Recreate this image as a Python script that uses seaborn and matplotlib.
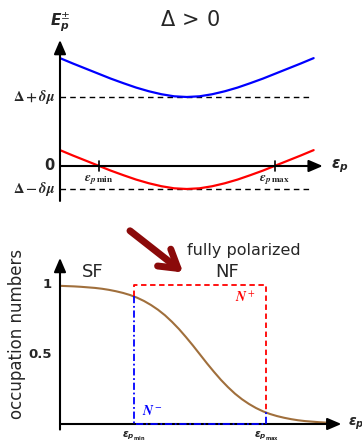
import numpy as np
import pandas as pd
import matplotlib
matplotlib.use("Agg")
import matplotlib.pyplot as plt
import seaborn as sns

# ---- quasiparticle branches E_p^+ / E_p^- versus eps_p ----
eps_top = [0.0, 0.25, 0.5, 0.75, 1.0, 1.25, 1.5, 1.75, 2.0, 2.25, 2.5,
           2.75, 3.0, 3.25, 3.5, 3.75, 4.0, 4.25, 4.5, 4.75, 5.0]
e_plus = [4.69, 4.46, 4.24, 4.02, 3.80, 3.60, 3.41, 3.25, 3.12, 3.03, 3.00,
          3.03, 3.12, 3.25, 3.41, 3.60, 3.80, 4.02, 4.24, 4.46, 4.69]
e_minus = [0.69, 0.46, 0.24, 0.02, -0.20, -0.40, -0.59, -0.75, -0.88, -0.97, -1.00,
           -0.97, -0.88, -0.75, -0.59, -0.40, -0.20, 0.02, 0.24, 0.46, 0.69]
level_plus = 3.0     # Delta + delta mu
level_minus = -1.0   # Delta - delta mu
eps_min_top, eps_max_top = 0.77, 4.23

# ---- occupation numbers ----
eps_bot = [0.0, 0.25, 0.5, 0.75, 1.0, 1.25, 1.5, 1.75, 2.0, 2.25,
           2.5, 2.75, 3.0, 3.25, 3.5, 3.75, 4.0, 4.25, 4.5, 4.75,
           5.0, 5.25, 5.5, 5.75, 6.0, 6.25, 6.5, 6.75, 7.0, 7.25,
           7.5, 7.75, 8.0, 8.25, 8.5, 8.75, 9.0, 9.25, 9.5, 9.75]
n_sf = [0.994, 0.992, 0.990, 0.987, 0.983, 0.979, 0.973, 0.965, 0.955, 0.943,
        0.928, 0.909, 0.885, 0.856, 0.822, 0.782, 0.735, 0.683, 0.625, 0.564,
        0.500, 0.436, 0.375, 0.317, 0.265, 0.218, 0.178, 0.144, 0.115, 0.091,
        0.072, 0.057, 0.045, 0.035, 0.027, 0.021, 0.017, 0.013, 0.010, 0.008]
eps_min_bot, eps_max_bot = 2.64, 7.36
n_plus_x = [eps_min_bot, eps_min_bot, eps_max_bot, eps_max_bot]
n_plus_y = [0.92, 1.0, 1.0, 0.084]
n_minus_x = [eps_min_bot, eps_min_bot, eps_max_bot, eps_max_bot]
n_minus_y = [0.92, 0.0, 0.0, 0.084]

sns.set_style("white")
plt.rcParams["mathtext.fontset"] = "dejavusans"

fig = plt.figure(figsize=(3.62, 4.43), dpi=100)

# ================= top panel =================
ax1 = fig.add_axes([60 / 362, (443 - 202.8) / 443, 279 / 362, 165.6 / 443])
ax1.set_xlim(0, 5.5)
ax1.set_ylim(-1.6, 5.6)
ax1.axis("off")

top = pd.DataFrame({"eps": eps_top, "plus": e_plus, "minus": e_minus})
sns.lineplot(data=top, x="eps", y="plus", color="#0000ff", lw=1.6, ax=ax1, zorder=3)
sns.lineplot(data=top, x="eps", y="minus", color="#ff0000", lw=1.6, ax=ax1, zorder=3)

for lvl in (level_plus, level_minus):
    ax1.plot([0, 4.94], [lvl, lvl], color="black", lw=1.0, ls=(0, (4, 3)), zorder=2)

arrow_kw = dict(arrowstyle="-|>,head_length=0.7,head_width=0.3", color="black",
                lw=1.5, shrinkA=0, shrinkB=0, mutation_scale=12)
ax1.annotate("", xy=(0, 5.48), xytext=(0, -1.52), arrowprops=arrow_kw,
             annotation_clip=False)
ax1.annotate("", xy=(5.18, 0), xytext=(0, 0), arrowprops=arrow_kw,
             annotation_clip=False)

for xe in (eps_min_top, eps_max_top):
    ax1.plot([xe, xe], [-0.22, 0.22], color="black", lw=1.2, zorder=4)
    ax1.text(xe, -0.33, r"$\mathbfit{\epsilon}_{\mathbfit{p}\,\mathbf{%s}}$"
             % ("min" if xe == eps_min_top else "max"),
             ha="center", va="top", fontsize=9.5, math_fontfamily="stix")

for yv in (level_plus, 0, level_minus):
    ax1.plot([-0.06, 0], [yv, yv], color="black", lw=1.2)
ax1.text(-0.1, level_plus, r"$\mathbf{\Delta+}\mathbfit{\delta\mu}$", ha="right",
         va="center", fontsize=10.5, math_fontfamily="stix")
ax1.text(-0.1, level_minus, r"$\mathbf{\Delta-}\mathbfit{\delta\mu}$", ha="right",
         va="center", fontsize=10.5, math_fontfamily="stix")
ax1.text(-0.1, 0, "0", ha="right", va="center", fontsize=10.5, fontweight="bold")

ax1.text(5.35, 0, r"$\mathbfit{\epsilon}_{\mathbfit{p}}$", ha="left", va="center",
         fontsize=11)
ax1.text(0.0, 6.25, r"$\mathbfit{E}_{\mathbfit{p}}^{\pm}$", ha="center", va="center",
         fontsize=11)
ax1.text(2.56, 6.35, r"$\Delta\,>\,0$", ha="center", va="center", fontsize=15)

# ================= bottom panel =================
ax2 = fig.add_axes([60 / 362, (443 - 437.9) / 443, 296.8 / 362, 194.6 / 443])
ax2.set_xlim(0, 10.6)
ax2.set_ylim(-0.1, 1.3)
ax2.axis("off")

bot = pd.DataFrame({"eps": eps_bot, "n": n_sf})
sns.lineplot(data=bot, x="eps", y="n", color="#a06f3c", lw=1.5, ax=ax2, zorder=3)

ax2.annotate("", xy=(0, 1.195), xytext=(0, -0.04), arrowprops=arrow_kw,
             annotation_clip=False)
ax2.annotate("", xy=(10.05, 0), xytext=(0, 0), arrowprops=arrow_kw,
             annotation_clip=False)

ax2.plot(n_plus_x, n_plus_y, color="#ff0000", lw=1.3, ls=(0, (3, 2)), zorder=4)
ax2.plot(n_minus_x, n_minus_y, color="#0000ff", lw=1.3, ls=(0, (4, 1.5, 1, 1.5)), zorder=5)

for yv, lab in ((1.0, "1"), (0.5, "0.5")):
    ax2.plot([-0.12, 0], [yv, yv], color="black", lw=1.2)
    ax2.text(-0.3, yv, lab, ha="right", va="center", fontsize=9.5, fontweight="bold")

ax2.text(eps_min_bot, -0.035, r"$\mathbfit{\epsilon}_{\mathbfit{p}_{\mathbf{min}}}$",
         ha="center", va="top", fontsize=7.5)
ax2.text(eps_max_bot, -0.035, r"$\mathbfit{\epsilon}_{\mathbfit{p}_{\mathbf{max}}}$",
         ha="center", va="top", fontsize=7.5)
ax2.text(10.3, 0, r"$\mathbfit{\epsilon}_{\mathbfit{p}}$", ha="left", va="center",
         fontsize=10)

ax2.text(-1.55, 0.65, "occupation numbers", rotation=90, ha="center", va="center",
         fontsize=12)
ax2.text(1.18, 1.09, "SF", ha="center", va="center", fontsize=13)
ax2.text(5.98, 1.09, "NF", ha="center", va="center", fontsize=13)
ax2.text(6.55, 1.245, "fully polarized", ha="center", va="center", fontsize=11.5)
ax2.text(6.6, 0.91, r"$\mathbfit{N}^+$", color="#ff0000", ha="center", va="center",
         fontsize=10, math_fontfamily="stix")
ax2.text(3.3, 0.095, r"$\mathbfit{N}^-$", color="#0000ff", ha="center", va="center",
         fontsize=10, math_fontfamily="stix")

ax2.annotate("", xy=(4.4, 1.09), xytext=(2.5, 1.39),
             arrowprops=dict(arrowstyle="->,head_length=0.9,head_width=0.55",
                             color="#8b0a0a", lw=5, shrinkA=0, shrinkB=0,
                             mutation_scale=14, capstyle="round", joinstyle="round"),
             annotation_clip=False)

fig.savefig("out.png", dpi=100)
